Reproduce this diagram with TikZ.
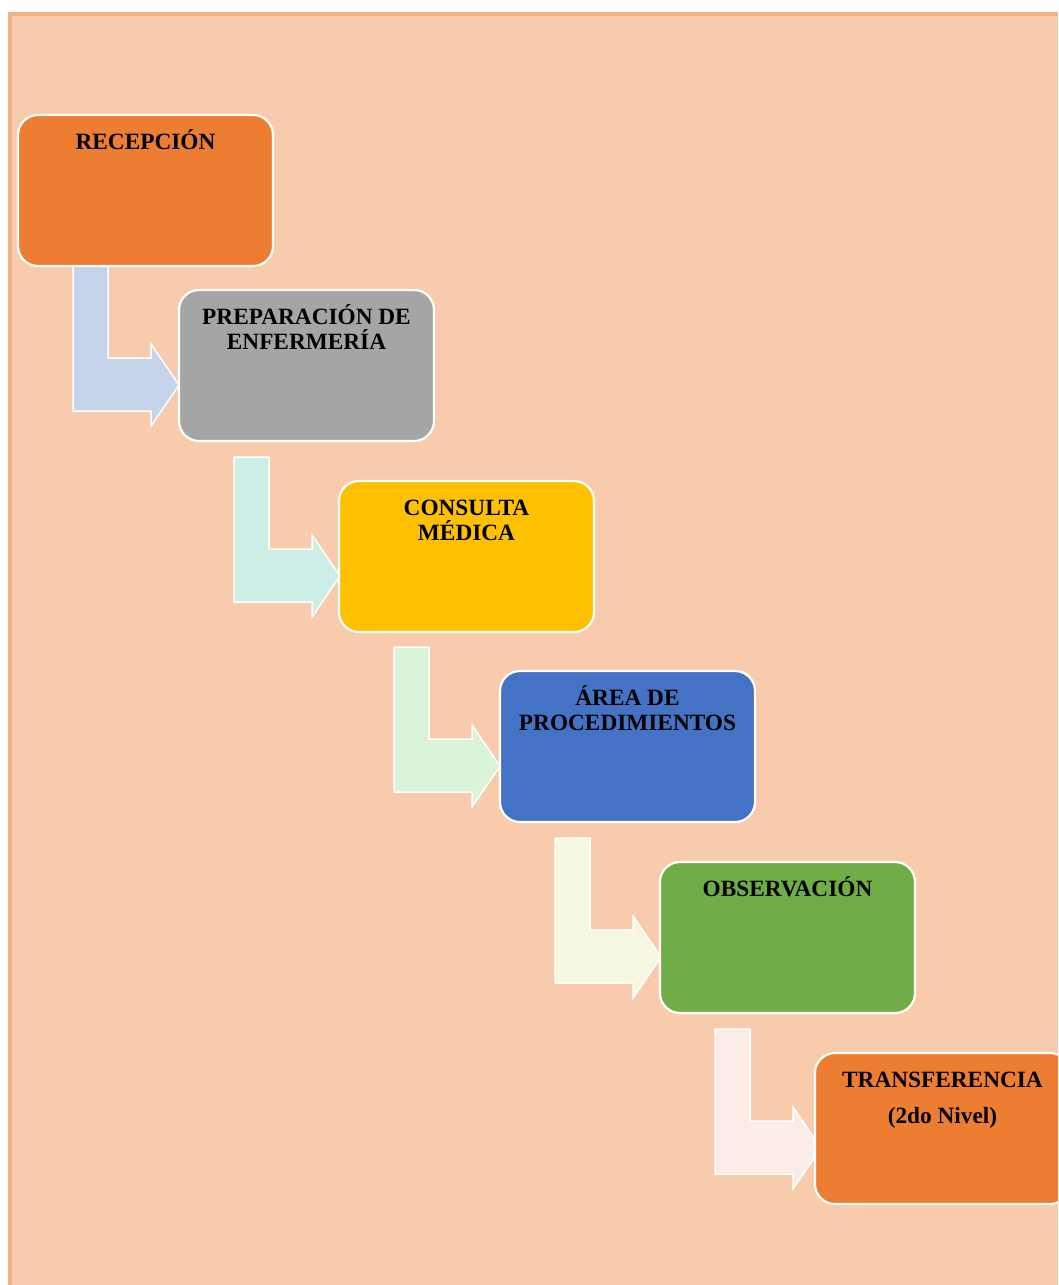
\documentclass[tikz,border=0pt]{standalone}
\usepackage{fontspec}
\setmainfont{Liberation Serif}
\usetikzlibrary{calc,backgrounds}
\definecolor{peach}{HTML}{F8CBAD}
\definecolor{peachline}{HTML}{F4B183}
\definecolor{orangeA}{HTML}{ED7D31}
\definecolor{grayA}{HTML}{A5A5A5}
\definecolor{goldA}{HTML}{FFC000}
\definecolor{blueA}{HTML}{4472C4}
\definecolor{greenA}{HTML}{70AD47}
\definecolor{arA}{HTML}{C5D4EB}
\definecolor{arB}{HTML}{CCEEE7}
\definecolor{arC}{HTML}{D9F4D9}
\definecolor{arD}{HTML}{F6F8E1}
\definecolor{arE}{HTML}{FBECE7}
\begin{document}
\begin{tikzpicture}[x=1pt,y=-1pt,
  stepbox/.style={draw=white, line width=2.2pt, rounded corners=20pt,
    minimum width=255pt, minimum height=151pt, inner sep=0pt, outer sep=0pt,
    anchor=north west},
  steptext/.style={anchor=north, inner sep=0pt, align=center,
    font=\bfseries\fontsize{23.3}{25}\selectfont},
  bentarrow/.style={draw=white, line width=1.5pt, line join=miter}]
\useasboundingbox (0,0) rectangle (1058,1285);
\begin{scope}[on background layer]
  \fill[white] (0,0) rectangle (1058,1285);
  \fill[peach] (8,12) rectangle (1058,1285);
  \draw[peachline, line width=4pt] (10,1285) -- (10,14) -- (1058,14);
\end{scope}
\clip (0,0) rectangle (1058,1285);
% boxes
\node[stepbox, fill=orangeA] (b1) at (18,115) {};
\node[stepbox, fill=grayA]   (b2) at (179,290) {};
\node[stepbox, fill=goldA]   (b3) at (339,481) {};
\node[stepbox, fill=blueA]   (b4) at (500,671) {};
\node[stepbox, fill=greenA]  (b5) at (660,862) {};
\node[stepbox, fill=orangeA] (b6) at (815,1053) {};
% texts
\node[steptext] (t1) at ($(b1.north)+(0,11)$) {\rule{0pt}{23pt}RECEPCIÓN};
\node[steptext] (t2) at ($(b2.north)+(0,11)$) {\rule{0pt}{23pt}PREPARACIÓN DE\\ENFERMERÍA};
\node[steptext] (t3) at ($(b3.north)+(0,11)$) {\rule{0pt}{23pt}CONSULTA\\MÉDICA};
\node[steptext] (t4) at ($(b4.north)+(0,11)$) {\rule{0pt}{23pt}ÁREA DE\\PROCEDIMIENTOS};
\node[steptext] (t5) at ($(b5.north)+(0,11)$) {\rule{0pt}{23pt}OBSERVACIÓN};
\node[steptext] (t6) at ($(b6.north)+(0,11)$) {\rule{0pt}{23pt}TRANSFERENCIA\\[11pt](2do Nivel)};
% bent arrows
\begin{scope}[on background layer]
\foreach \a/\b/\c in {b1/b2/arA, b2/b3/arB, b3/b4/arC, b4/b5/arD, b5/b6/arE}{
  \coordinate (o-\a) at (\a.north west |- \b.north west);
  \filldraw[bentarrow, fill=\c]
    ($(o-\a)+(55,-24)$) -- ($(o-\a)+(90,-24)$) -- ($(o-\a)+(90,68)$)
    -- ($(o-\a)+(133,68)$) -- ($(o-\a)+(133,54)$) -- ($(o-\a)+(161,95)$)
    -- ($(o-\a)+(133,136)$) -- ($(o-\a)+(133,121)$) -- ($(o-\a)+(55,121)$)
    -- cycle;
}
\end{scope}
\end{tikzpicture}
\end{document}
